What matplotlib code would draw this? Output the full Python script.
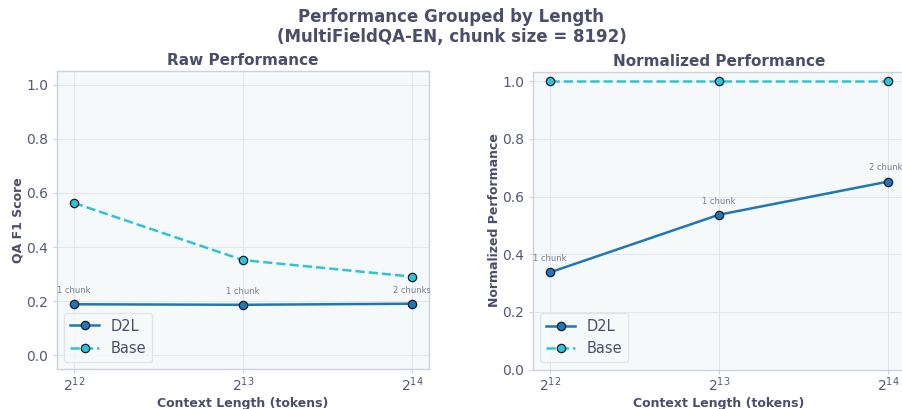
import matplotlib
matplotlib.use("Agg")
import matplotlib.pyplot as plt
import numpy as np

lengths = [4096, 8192, 16384]
chunk_labels = ["1 chunk", "1 chunk", "2 chunks"]
raw_d2l = [0.189, 0.187, 0.191]
raw_base = [0.563, 0.352, 0.291]
norm_d2l = [0.337, 0.537, 0.652]
norm_base = [1.0, 1.0, 1.0]

TXT = "#4a4e6a"
TICK = "#555a70"
SPINE = "#cdd1dc"
C_D2L = "#1f77b4"
C_BASE = "#2ec4d6"

fig = plt.figure(figsize=(9.03, 4.09), dpi=100)
ax1 = fig.add_axes([57/903, 1-369/409, 372/903, 298/409])
ax2 = fig.add_axes([533/903, 1-369.5/409, 372/903, 298/409])

def style(ax):
    ax.set_facecolor("#f5f9fa")
    ax.set_xscale("log", base=2)
    ax.set_xlim(2**11.9, 2**14.1)
    ax.set_xticks(lengths)
    ax.minorticks_off()
    ax.grid(True, color="#e3e7ec", linewidth=0.8)
    ax.set_axisbelow(True)
    for s in ax.spines.values():
        s.set_color(SPINE)
        s.set_linewidth(1.0)
    ax.tick_params(colors=SPINE, labelcolor=TICK, labelsize=10, length=3)
    ax.tick_params(axis="x", pad=1.5)
    ax.set_xlabel("Context Length (tokens)", fontsize=9, fontweight="bold", color=TXT, labelpad=2)

for ax, d2l, base, title, ylab in [
    (ax1, raw_d2l, raw_base, "Raw Performance", "QA F1 Score"),
    (ax2, norm_d2l, norm_base, "Normalized Performance", "Normalized Performance"),
]:
    style(ax)
    ax.plot(lengths, d2l, "-o", color=C_D2L, lw=1.8, ms=6, mec="#1a1a2e", mew=0.9, label="D2L")
    ax.plot(lengths, base, "--o", color=C_BASE, lw=1.8, ms=6, mec="#1a1a2e", mew=0.9, label="Base")
    for x, y, lab in zip(lengths, d2l, chunk_labels):
        ax.annotate(lab, (x, y), xytext=(0, 8), textcoords="offset points",
                    ha="center", fontsize=6, color="#7a7f90")
    ax.set_title(title, fontsize=11, fontweight="bold", color=TXT, pad=4)
    ax.set_ylabel(ylab, fontsize=9, fontweight="bold", color=TXT, labelpad=1)
    leg = ax.legend(loc="lower left", fontsize=10.5, frameon=True, labelcolor=TXT)
    leg.get_frame().set_edgecolor("#dde1e8")
    leg.get_frame().set_facecolor("#f7f9fb")

ax1.set_ylim(-0.05, 1.05)
ax1.set_yticks([0.0, 0.2, 0.4, 0.6, 0.8, 1.0])
ax2.set_ylim(0.0, 1.034)
ax2.set_yticks([0.0, 0.2, 0.4, 0.6, 0.8, 1.0])

fig.suptitle("Performance Grouped by Length\n(MultiFieldQA-EN, chunk size = 8192)",
             fontsize=12, fontweight="bold", color=TXT, y=0.98, linespacing=1.1)

fig.savefig("out.png", dpi=100)
